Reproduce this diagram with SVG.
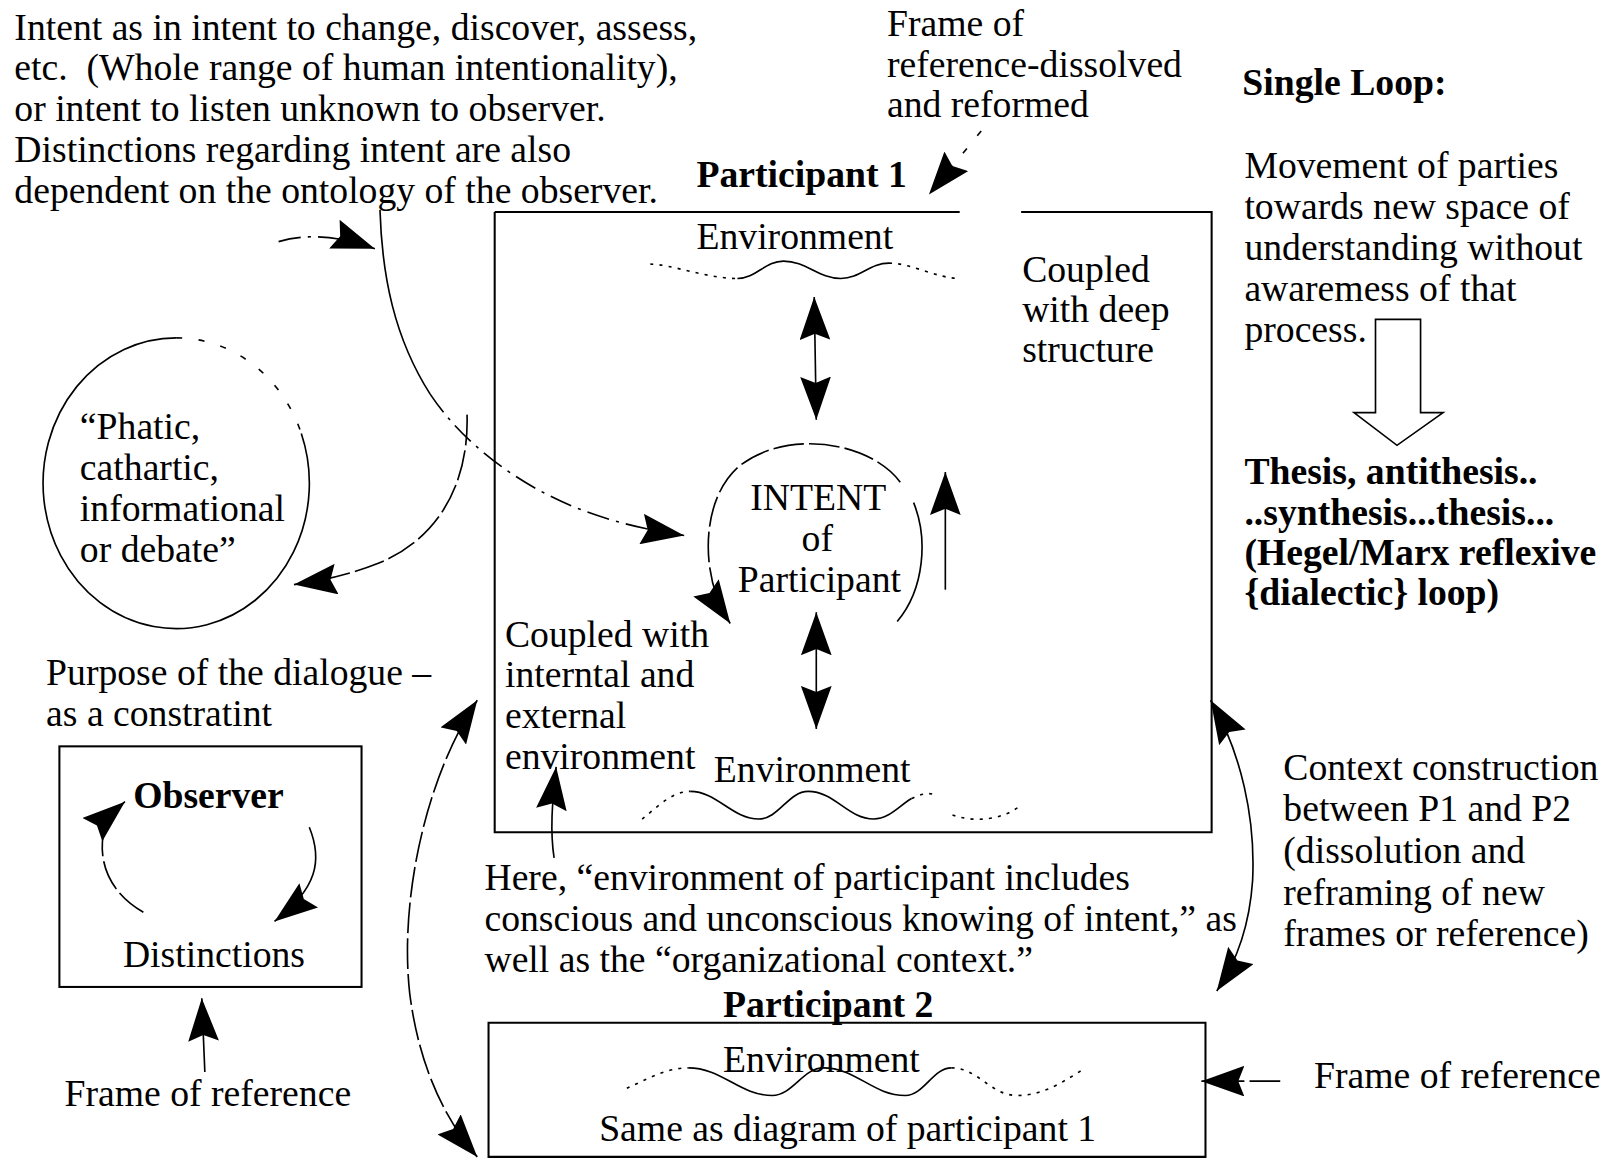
<svg xmlns="http://www.w3.org/2000/svg" width="1606" height="1162" viewBox="0 0 1606 1162">
  <defs>
    <style>
      .t { font-family: "Liberation Serif", "Times New Roman", serif; font-size: 36.8px; fill: #000; }
      .b { font-weight: bold; }
      .m { text-anchor: middle; }
      .edge { fill: none; stroke: #000; stroke-width: 2; }
      .ln { fill: none; stroke: #000; stroke-width: 1.6; }
      .dsh { stroke-dasharray: 30 5; }
      .dd { stroke-dasharray: 22 7 3 7; }
      .sparse { stroke-dasharray: 6 16; }
      .dot { stroke-dasharray: 3 6; }
      .arr { marker-end: url(#head); }
      .both { marker-start: url(#head); marker-end: url(#head); }
    </style>
    <marker id="head" viewBox="0 0 42 30" refX="42" refY="15" markerWidth="42" markerHeight="30" markerUnits="userSpaceOnUse" orient="auto-start-reverse">
      <path d="M0,0 L42,15 L0,30 L6,15 Z" fill="#000"/>
    </marker>
  </defs>
  <rect width="1606" height="1162" fill="#fff"/>

  <g transform="scale(1.0242,1.0238)">
    <!-- explanatory note on intent -->
    <g id="intent-note">
      <text class="t" x="14" y="39">Intent as in intent to change, discover, assess,</text>
      <text class="t" x="14" y="78">etc.&#160; (Whole range of human intentionality),</text>
      <text class="t" x="14" y="118">or intent to listen unknown to observer.</text>
      <text class="t" x="14" y="158">Distinctions regarding intent are also</text>
      <text class="t" x="14" y="198">dependent on the ontology of the observer.</text>
    </g>

    <g id="frame-dissolved">
      <text class="t" x="866" y="35">Frame of</text>
      <text class="t" x="866" y="75">reference-dissolved</text>
      <text class="t" x="866" y="114">and reformed</text>
    </g>

    <!-- participant 1 frame -->
    <g id="participant1">
      <text class="t b" x="680" y="183">Participant 1</text>
      <path class="edge" d="M483,207 H937 M997,207 H1183 V813 H483 V207"/>
      <text class="t" x="680" y="243">Environment</text>
      <path class="ln dot" d="M635,258 C655,258 690,272 720,272"/>
      <path class="ln" d="M720,272 C738,272 747,255 765,255 C787,255 799,272 821,272 C840,272 849,257 868,257"/>
      <path class="ln dot" d="M868,257 C890,257 915,272 937,272"/>
      <text class="t" x="998" y="275">Coupled</text>
      <text class="t" x="998" y="315">with deep</text>
      <text class="t" x="998" y="354">structure</text>
      <text class="t" x="493" y="632">Coupled with</text>
      <text class="t" x="493" y="671">interntal and</text>
      <text class="t" x="493" y="711">external</text>
      <text class="t" x="493" y="751">environment</text>
      <text class="t" x="697" y="764">Environment</text>
      <path class="ln dot" d="M627,800 C640,790 655,773 674,773"/>
      <path class="ln" d="M674,773 C700,773 715,800 741,800 C760,800 770,773 789,773 C815,773 828,800 853,800 C868,800 878,787 890,780"/>
      <path class="ln dot" d="M890,780 C898,776 905,774 912,776 M930,796 C950,803 975,802 995,788"/>
    </g>

    <g id="intent">
      <text class="t m" x="799" y="498">INTENT</text>
      <text class="t m" x="798" y="538">of</text>
      <text class="t m" x="800" y="578">Participant</text>
    </g>

    <g id="phatic">
      <path class="ln" d="M294.2,423.4 A130,142 0 1 1 172,330"/>
      <path class="ln sparse" d="M172,330 A130,142 0 0 1 294.2,423.4"/>
      <text class="t" x="78" y="429">“Phatic,</text>
      <text class="t" x="78" y="469">cathartic,</text>
      <text class="t" x="78" y="509">informational</text>
      <text class="t" x="78" y="549">or debate”</text>
    </g>

    <g id="purpose">
      <text class="t" x="45" y="669">Purpose of the dialogue –</text>
      <text class="t" x="45" y="709">as a constratint</text>
    </g>

    <g id="observer">
      <rect class="edge" x="58" y="729" width="295" height="235"/>
      <text class="t b" x="130" y="789">Observer</text>
      <text class="t" x="120" y="945">Distinctions</text>
    </g>

    <g id="frame-observer">
      <text class="t" x="63" y="1080">Frame of reference</text>
    </g>

    <g id="single-loop">
      <text class="t b" x="1213" y="93">Single Loop:</text>
      <text class="t" x="1215" y="174">Movement of parties</text>
      <text class="t" x="1215" y="214">towards new space of</text>
      <text class="t" x="1215" y="254">understanding without</text>
      <text class="t" x="1215" y="294">awaremess of that</text>
      <text class="t" x="1215" y="334">process.</text>
      <path class="ln" d="M1343,312 H1387 V403 H1409 L1364,435 L1322,403 H1343 Z" fill="#fff"/>
      <text class="t b" x="1215" y="473">Thesis, antithesis..</text>
      <text class="t b" x="1215" y="513">..synthesis...thesis...</text>
      <text class="t b" x="1215" y="552">(Hegel/Marx reflexive</text>
      <text class="t b" x="1215" y="591">{dialectic} loop)</text>
    </g>

    <g id="context">
      <text class="t" x="1253" y="762">Context construction</text>
      <text class="t" x="1253" y="802">between P1 and P2</text>
      <text class="t" x="1253" y="843">(dissolution and</text>
      <text class="t" x="1253" y="884">reframing of new</text>
      <text class="t" x="1253" y="924">frames or reference)</text>
    </g>

    <g id="environment-note">
      <text class="t" x="473" y="869">Here, “environment of participant includes</text>
      <text class="t" x="473" y="909">conscious and unconscious knowing of intent,” as</text>
      <text class="t" x="473" y="949">well as the “organizational context.”</text>
    </g>

    <g id="participant2">
      <text class="t b" x="706" y="993">Participant 2</text>
      <path class="edge" d="M477,999 H1177 V1130 H477 Z"/>
      <text class="t" x="706" y="1047">Environment</text>
      <path class="ln dot" d="M612,1063 C630,1055 650,1043 672,1043"/>
      <path class="ln" d="M672,1043 C705,1043 722,1070 754,1070 C774,1070 784,1043 804,1043 C836,1043 852,1070 884,1070 C902,1070 911,1043 929,1043"/>
      <path class="ln dot" d="M929,1043 C955,1043 967,1070 993,1070 C1020,1070 1040,1055 1057,1045"/>
      <text class="t" x="585" y="1114">Same as diagram of participant 1</text>
    </g>

    <g id="frame-p2">
      <text class="t" x="1283" y="1063">Frame of reference</text>
    </g>

    <!-- connectors -->
    <g id="connectors">
      <path class="ln sparse arr" d="M958,128 L907,190"/>
      <path class="ln both" d="M795,290 L797,410"/>
      <path class="ln arr" d="M923,576 L923,461"/>
      <path class="ln both" d="M797,598 L797,712"/>
      <path class="ln dsh arr" d="M879,471 C850,432 770,418 722,455 C683,488 683,565 713,609"/>
      <path class="ln" d="M892,491 C906,525 903,575 876,607"/>
      <path class="ln" d="M371,205 C373,270 385,330 420,385"/>
      <path class="ln dd arr" d="M420,385 C450,430 500,470 560,495 C600,511 635,518 668,523"/>
      <path class="ln dd arr" d="M272,236 C300,228 330,230 366,243"/>
      <path class="ln dsh arr" d="M456,405 C458,470 430,525 370,550 C340,562 310,568 287,571"/>
      <path class="ln dsh arr" d="M140,891 C112,875 98,850 100,822 C101,805 108,795 122,783"/>
      <path class="ln arr" d="M302,808 C315,840 310,868 268,900"/>
      <path class="ln arr" d="M200,1047 L197,975"/>
      <path class="ln dsh both" d="M466,684 C415,760 390,880 400,970 C410,1050 440,1100 466,1130"/>
      <path class="ln both" d="M1182,684 C1212,735 1226,800 1223,860 C1220,905 1207,940 1188,968"/>
      <path class="ln arr" d="M541,838 C537,812 539,785 543,749"/>
      <path class="ln dsh arr" d="M1250,1056 L1173,1056"/>
    </g>
  </g>
</svg>
